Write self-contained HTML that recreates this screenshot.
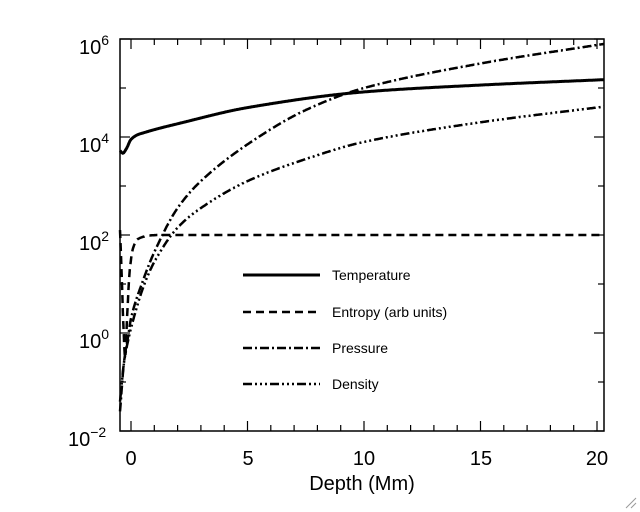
<!DOCTYPE html>
<html><head><meta charset="utf-8"><style>
html,body{margin:0;padding:0;background:#fff}
svg{display:block;font-family:"Liberation Sans",sans-serif}
</style></head><body>
<svg id="s" width="640" height="512" xmlns="http://www.w3.org/2000/svg">
<rect x="120" y="39" width="484" height="392" fill="none" stroke="#000" stroke-width="1.5"/>
<g id="ticks" stroke="#000" stroke-width="1.2"></g>
<g font-size="20" fill="#000">
<text x="79" y="54">10<tspan dy="-9" font-size="14">6</tspan></text>
<text x="79" y="152">10<tspan dy="-9" font-size="14">4</tspan></text>
<text x="79" y="250">10<tspan dy="-9" font-size="14">2</tspan></text>
<text x="79" y="348">10<tspan dy="-9" font-size="14">0</tspan></text>
<text x="68" y="446">10<tspan dy="-9" font-size="14">−2</tspan></text>
<g text-anchor="middle">
<text x="131" y="465">0</text><text x="248" y="465">5</text><text x="364" y="465">10</text><text x="481" y="465">15</text><text x="597" y="465">20</text>
<text x="362" y="490">Depth (Mm)</text>
</g>
</g>
<g id="curves" fill="none" stroke="#000"></g>
<g stroke="#000" fill="none">
<line x1="243" y1="275" x2="320" y2="275" stroke-width="3"/>
<line x1="243" y1="312" x2="320" y2="312" stroke-width="2.5" stroke-dasharray="8,5"/>
<line x1="243" y1="348" x2="320" y2="348" stroke-width="2.5" stroke-dasharray="9,3,2,3"/>
<line x1="243" y1="384" x2="320" y2="384" stroke-width="2.5" stroke-dasharray="9,3,2,3,2,3,2,3"/>
</g>
<g font-size="14" fill="#000">
<text x="332" y="280">Temperature</text>
<text x="332" y="317">Entropy (arb units)</text>
<text x="332" y="353">Pressure</text>
<text x="332" y="389">Density</text>
</g>
<g stroke="#999" stroke-width="1"><line x1="626" y1="508" x2="636" y2="498"/><line x1="631" y1="508" x2="636" y2="503"/></g>
</svg>
<script>
var NS="http://www.w3.org/2000/svg";
function X(x){return 131+x*23.3}
function Y(l){return 333-l*49}
var t=document.getElementById('ticks'),h='';
for(var i=0;i<=20;i++){var len=i%5==0?10:6;h+='<line x1="'+X(i)+'" y1="431" x2="'+X(i)+'" y2="'+(431-len)+'"/><line x1="'+X(i)+'" y1="39" x2="'+X(i)+'" y2="'+(39+len)+'"/>';}
for(var d=-2;d<=6;d++){var y=Y(d);var len=d%2==0?10:6;h+='<line x1="120" y1="'+y+'" x2="'+(120+len)+'" y2="'+y+'"/><line x1="604" y1="'+y+'" x2="'+(604-len)+'" y2="'+y+'"/>';}
t.innerHTML=h;
// monotone-ish Catmull-Rom spline (non-uniform via Hermite with finite-difference slopes)
function spline(p,x){var n=p.length;if(x<=p[0][0])return p[0][1];if(x>=p[n-1][0])return p[n-1][1];
var i=0;while(x>p[i+1][0])i++;
function m(k){if(k==0)return (p[1][1]-p[0][1])/(p[1][0]-p[0][0]);if(k==n-1)return (p[n-1][1]-p[n-2][1])/(p[n-1][0]-p[n-2][0]);
var a=(p[k][1]-p[k-1][1])/(p[k][0]-p[k-1][0]),b=(p[k+1][1]-p[k][1])/(p[k+1][0]-p[k][0]);if(a*b<=0)return 0;return 2*a*b/(a+b);}
var hh=p[i+1][0]-p[i][0],s=(x-p[i][0])/hh,s2=s*s,s3=s2*s;
return (2*s3-3*s2+1)*p[i][1]+(s3-2*s2+s)*hh*m(i)+(-2*s3+3*s2)*p[i+1][1]+(s3-s2)*hh*m(i+1);}
var TP=[[-0.47,3.72],[-0.35,3.67],[-0.2,3.76],[0,3.95],[0.3,4.05],[0.5,4.08],[1,4.15],[2,4.27],[5,4.6],[10,4.92],[15,5.06],[20.3,5.17]];
var P=[[-0.47,-1.6],[-0.3,-0.6],[-0.1,0],[0,0.3],[0.5,1.05],[1,1.65],[2,2.55],[3,3.1],[5,3.85],[7.5,4.55],[10,5.0],[15,5.5],[20.3,5.9]];
var D=[[-0.47,-1.4],[-0.3,-0.6],[-0.1,-0.1],[0,0.1],[0.5,0.9],[1,1.45],[2,2.15],[3,2.55],[5,3.1],[7.5,3.55],[10,3.9],[15,4.3],[20.3,4.62]];
var E=[[-0.47,2.1],[-0.4,1.2],[-0.33,0.2],[-0.25,-0.5],[-0.17,0.3],[-0.05,1.3],[0.1,1.75],[0.3,1.92],[0.8,1.99],[1.2,2.0],[20.3,2.0]];
function path(p,w,dash){var d='';for(var x=-0.47;x<=20.3;x+=0.02){d+=(d?'L':'M')+X(x).toFixed(1)+','+Y(spline(p,x)).toFixed(1);}
var e=document.createElementNS(NS,'path');e.setAttribute('d',d);e.setAttribute('stroke-width',w);if(dash)e.setAttribute('stroke-dasharray',dash);document.getElementById('curves').appendChild(e);}
path(TP,3);
path(E,2.5,"8,5");
path(P,2.5,"9,3,2,3");
path(D,2.5,"9,3,2,3,2,3,2,3");
</script>
</body></html>
